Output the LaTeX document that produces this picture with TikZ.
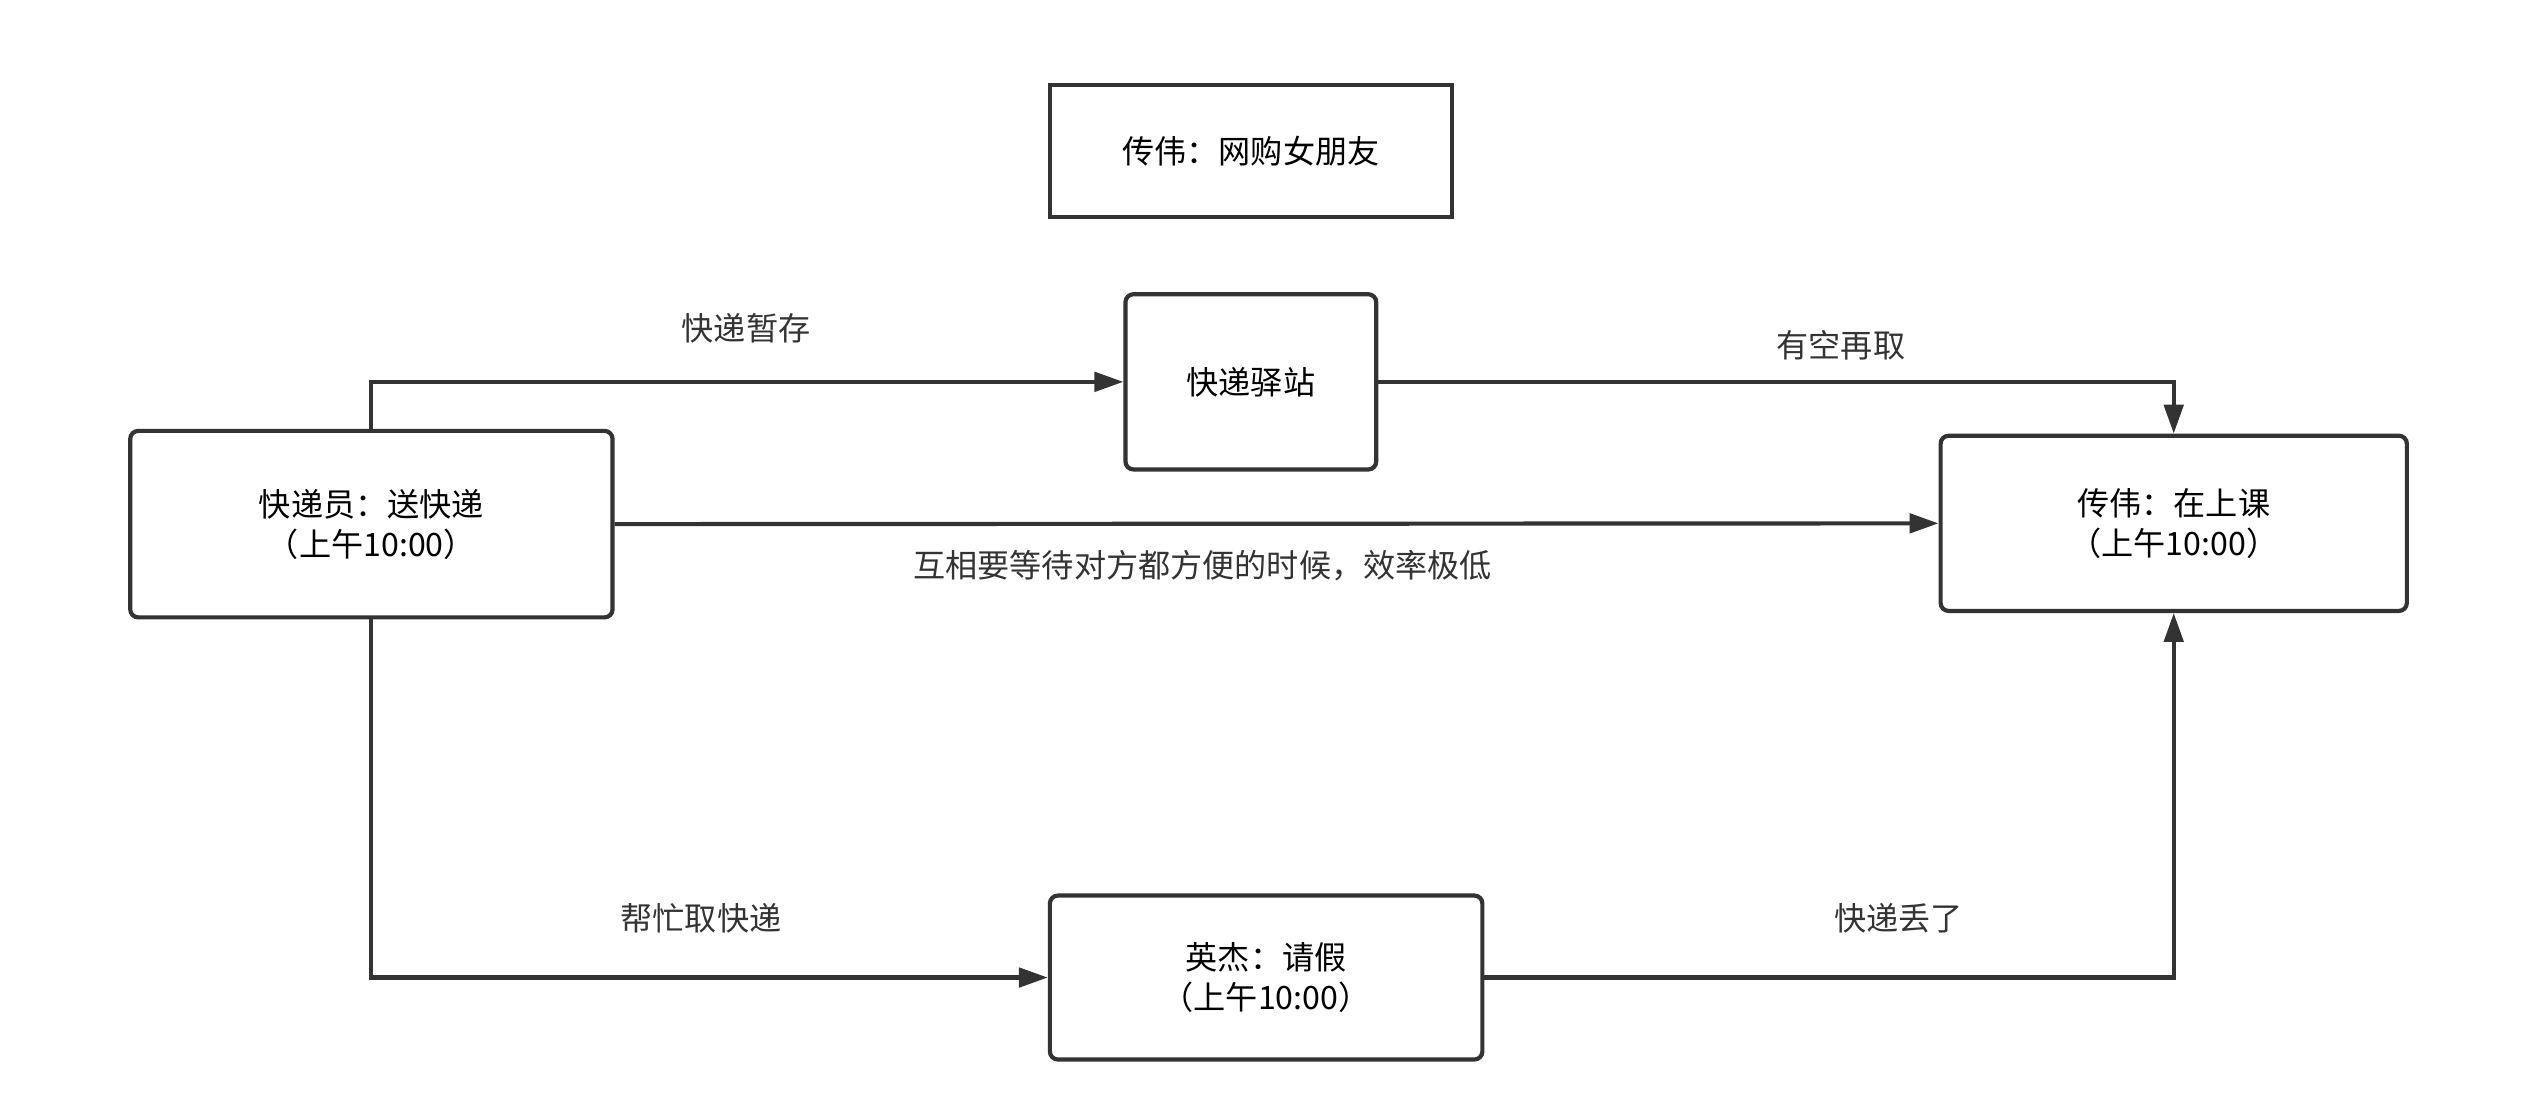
\documentclass[tikz,border=0pt]{standalone}
\usepackage{fontspec}
\setmainfont{Noto Sans CJK SC}
\usetikzlibrary{positioning,arrows.meta}
\definecolor{ink}{HTML}{333333}
\tikzset{
    box/.style={draw=ink,line width=2.6pt,rounded corners=5pt,align=center,inner sep=0pt,font=\fontsize{20}{25}\selectfont},
    flow/.style={draw=ink,line width=2.6pt,-{Triangle[length=18pt,width=12pt]}},
    note/.style={font=\fontsize{20}{25}\selectfont,text=ink}
}
\begin{document}
\begin{tikzpicture}[x=1pt,y=-1pt]
    \useasboundingbox (0,0) rectangle (1568,685);
    \node[box,rounded corners=0pt,minimum width=250pt,minimum height=82pt] (title) at (778,94) {传伟：网购女朋友};
    \node[box,minimum width=156pt,minimum height=109pt] (station) at (778,237.5) {快递驿站};
    \node[box,minimum width=300pt,minimum height=116pt] (courier) at (231,326) {快递员：送快递\\（上午10:00）};
    \node[box,minimum width=290pt,minimum height=109pt] (chuanwei) at (1352,325.5) {传伟：在上课\\（上午10:00）};
    \node[box,minimum width=269pt,minimum height=102pt] (yingjie) at (787.5,608) {英杰：请假\\（上午10:00）};
    % connectors
    \draw[flow] (courier.north) |- (station.west);
    \draw[flow] (station.east) -| (chuanwei.north);
    \draw[flow] (courier.east) -- (chuanwei.west);
    \draw[flow] (courier.south) |- (yingjie.west);
    \draw[flow] (yingjie.east) -| (chuanwei.south);
    % labels
    \node[note] (l1) at (464,204) {快递暂存};
    \node[note] (l2) at (1145,215) {有空再取};
    \node[note] (l3) at (748,352) {互相要等待对方都方便的时候，效率极低};
    \node[note] (l4) at (436,571) {帮忙取快递};
    \node[note] (l5) at (1181,571) {快递丢了};
\end{tikzpicture}
\end{document}
